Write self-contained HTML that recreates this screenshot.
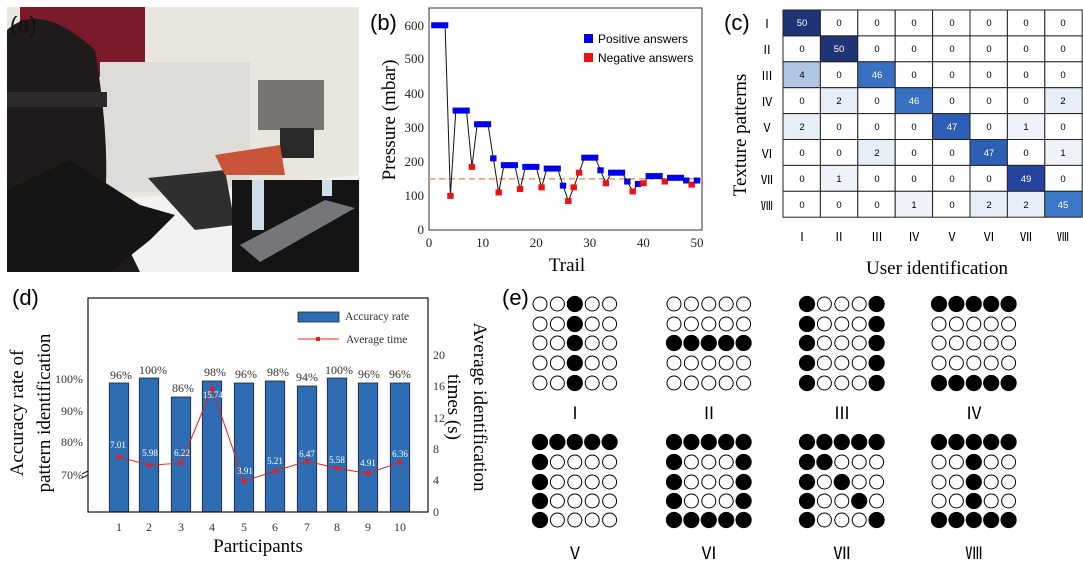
<!DOCTYPE html>
<html><head><meta charset="utf-8">
<style>
html,body{margin:0;padding:0;background:#fff;}
svg{display:block;}
.s{font-family:"Liberation Serif","Noto Serif CJK SC",serif;}
.a{font-family:"Liberation Sans","Noto Sans CJK SC",sans-serif;}
.r{font-family:"Liberation Sans","Noto Sans CJK SC",sans-serif;}
</style></head>
<body>
<svg id="sv" width="1083" height="574" viewBox="0 0 1083 574" xmlns="http://www.w3.org/2000/svg">
<!-- (a) photo approximation -->
<rect x="7" y="7" width="352" height="265" fill="#e9e6df"/>
<rect x="20" y="7" width="125" height="70" fill="#7a1a2a"/>
<rect x="100" y="62" width="150" height="130" fill="#dedcd8"/>
<polygon points="118,200 250,185 360,175 360,272 118,272" fill="#f2f2f2"/>
<polygon points="148,178 225,170 235,225 195,230" fill="#2f2f2f"/>
<rect x="258" y="80" width="66" height="50" fill="#7a7470"/>
<rect x="280" y="128" width="34" height="30" fill="#2a2a2a"/>
<polygon points="215,155 280,145 285,175 225,175" fill="#c8553a"/>
<path d="M7,30 Q40,0 95,50 Q110,140 105,200 L140,272 L7,272 Z" fill="#1f1b1a"/>
<rect x="7" y="92" width="100" height="15" fill="#2b2b2b"/>
<polygon points="70,160 140,205 175,215 150,240 110,272 7,272 7,190" fill="#151515"/>
<rect x="232" y="180" width="127" height="92" fill="#141414"/>
<rect x="252" y="180" width="12" height="50" fill="#cfdde8"/>
<rect x="322" y="180" width="10" height="16" fill="#cfdde8"/>
<polygon points="240,245 325,200 355,208 260,262" fill="#8d8f92" opacity="0.8"/>
<text x="10" y="32" class="a" font-size="22" fill="#111">(a)</text>

<!-- (b) -->
<text x="370" y="30" class="a" font-size="22">(b)</text>
<rect x="429" y="8" width="273" height="222" fill="none" stroke="#333" stroke-width="1"/>
<g class="s" font-size="13" text-anchor="end" fill="#222">
<text x="424" y="234">0</text><text x="424" y="200">100</text><text x="424" y="166">200</text>
<text x="424" y="132">300</text><text x="424" y="98">400</text><text x="424" y="63">500</text><text x="424" y="30">600</text>
</g>
<g class="s" font-size="13" text-anchor="middle" fill="#222">
<text x="429" y="247">0</text><text x="482.6" y="247">10</text><text x="536.2" y="247">20</text>
<text x="589.8" y="247">30</text><text x="643.4" y="247">40</text><text x="697" y="247">50</text>
</g>
<text x="567" y="271" class="s" font-size="19" text-anchor="middle">Trail</text>
<text transform="translate(395,120) rotate(-90)" class="s" font-size="19" text-anchor="middle">Pressure (mbar)</text>
<line x1="429" y1="178.8" x2="702" y2="178.8" stroke="#f0a060" stroke-width="1.6" stroke-dasharray="6,4"/>
<g id="bplot"></g>
<rect x="584" y="34" width="9" height="9" fill="#0000ee"/>
<text x="598" y="43" class="a" font-size="12">Positive answers</text>
<rect x="584" y="53" width="9" height="9" fill="#ee1111"/>
<text x="598" y="62" class="a" font-size="12">Negative answers</text>

<!-- (c) -->
<text x="724" y="30" class="a" font-size="22">(c)</text>
<g id="cm"></g>
<g class="a" font-size="9.5" text-anchor="middle">
<text x="802" y="26" fill="#fff">50</text><text x="839" y="26">0</text><text x="877" y="26">0</text><text x="914" y="26">0</text><text x="952" y="26">0</text><text x="989" y="26">0</text><text x="1026" y="26">0</text><text x="1063" y="26">0</text>
<text x="802" y="52">0</text><text x="839" y="52" fill="#fff">50</text><text x="877" y="52">0</text><text x="914" y="52">0</text><text x="952" y="52">0</text><text x="989" y="52">0</text><text x="1026" y="52">0</text><text x="1063" y="52">0</text>
<text x="802" y="78">4</text><text x="839" y="78">0</text><text x="877" y="78" fill="#fff">46</text><text x="914" y="78">0</text><text x="952" y="78">0</text><text x="989" y="78">0</text><text x="1026" y="78">0</text><text x="1063" y="78">0</text>
<text x="802" y="104">0</text><text x="839" y="104">2</text><text x="877" y="104">0</text><text x="914" y="104" fill="#fff">46</text><text x="952" y="104">0</text><text x="989" y="104">0</text><text x="1026" y="104">0</text><text x="1063" y="104">2</text>
<text x="802" y="130">2</text><text x="839" y="130">0</text><text x="877" y="130">0</text><text x="914" y="130">0</text><text x="952" y="130" fill="#fff">47</text><text x="989" y="130">0</text><text x="1026" y="130">1</text><text x="1063" y="130">0</text>
<text x="802" y="156">0</text><text x="839" y="156">0</text><text x="877" y="156">2</text><text x="914" y="156">0</text><text x="952" y="156">0</text><text x="989" y="156" fill="#fff">47</text><text x="1026" y="156">0</text><text x="1063" y="156">1</text>
<text x="802" y="182">0</text><text x="839" y="182">1</text><text x="877" y="182">0</text><text x="914" y="182">0</text><text x="952" y="182">0</text><text x="989" y="182">0</text><text x="1026" y="182" fill="#fff">49</text><text x="1063" y="182">0</text>
<text x="802" y="208">0</text><text x="839" y="208">0</text><text x="877" y="208">0</text><text x="914" y="208">1</text><text x="952" y="208">0</text><text x="989" y="208">2</text><text x="1026" y="208">2</text><text x="1063" y="208" fill="#fff">45</text>
</g>
<g class="r" font-size="12" text-anchor="middle">
<text x="767" y="28">Ⅰ</text><text x="767" y="54">Ⅱ</text><text x="767" y="80">Ⅲ</text><text x="767" y="106">Ⅳ</text>
<text x="767" y="132">Ⅴ</text><text x="767" y="158">Ⅵ</text><text x="767" y="184">Ⅶ</text><text x="767" y="210">Ⅷ</text>
<text x="802" y="241">Ⅰ</text><text x="839" y="241">Ⅱ</text><text x="877" y="241">Ⅲ</text><text x="914" y="241">Ⅳ</text>
<text x="952" y="241">Ⅴ</text><text x="989" y="241">Ⅵ</text><text x="1026" y="241">Ⅶ</text><text x="1063" y="241">Ⅷ</text>
</g>
<text x="937" y="274" class="s" font-size="19" text-anchor="middle">User identification</text>
<text transform="translate(746,135) rotate(-90)" class="s" font-size="19" text-anchor="middle">Texture patterns</text>

<!-- (d) -->
<text x="12" y="305" class="a" font-size="22">(d)</text>
<g id="bars"></g>
<rect x="88" y="298" width="340" height="214" fill="none" stroke="#111" stroke-width="1.2"/>
<g class="s" font-size="12" text-anchor="end" fill="#333">
<text x="83" y="383">100%</text><text x="83" y="415">90%</text><text x="83" y="446">80%</text><text x="83" y="479">70%</text>
</g>
<g class="s" font-size="12" fill="#333">
<text x="433" y="359">20</text><text x="433" y="390">16</text><text x="433" y="422">12</text><text x="433" y="453">8</text><text x="433" y="484">4</text><text x="433" y="516">0</text>
</g>
<g class="s" font-size="12" text-anchor="middle" fill="#333">
<text x="119" y="531">1</text><text x="149" y="531">2</text><text x="181" y="531">3</text><text x="212" y="531">4</text><text x="244" y="531">5</text>
<text x="275" y="531">6</text><text x="307" y="531">7</text><text x="337" y="531">8</text><text x="368" y="531">9</text><text x="400" y="531">10</text>
</g>
<g class="s" font-size="12" text-anchor="middle" fill="#333">
<text x="121" y="379">96%</text><text x="153" y="374">100%</text><text x="183" y="392">86%</text><text x="215" y="376">98%</text><text x="246" y="378">96%</text>
<text x="278" y="376">98%</text><text x="307" y="381">94%</text><text x="339" y="374">100%</text><text x="369" y="378">96%</text><text x="400" y="378">96%</text>
</g>
<g class="s" font-size="9" text-anchor="middle" fill="#fff">
<text x="118" y="448">7.01</text><text x="150" y="456">5.98</text><text x="182" y="456">6.22</text><text x="213" y="398">15.74</text><text x="245" y="474">3.91</text>
<text x="275" y="464">5.21</text><text x="307" y="457">6.47</text><text x="337" y="463">5.58</text><text x="368" y="466">4.91</text><text x="400" y="457">6.36</text>
</g>
<rect x="298" y="312" width="41" height="10" fill="#2e6db4" stroke="#222" stroke-width="0.8"/>
<text x="345" y="320" class="s" font-size="11.5" fill="#333">Accuracy rate</text>
<line x1="298" y1="339" x2="339" y2="339" stroke="#e02020" stroke-width="1"/>
<rect x="316" y="337" width="4" height="4" fill="#e02020"/>
<text x="346" y="343" class="s" font-size="11.5" fill="#333">Average time</text>
<path d="M82,474 l6,-3 M82,478 l6,-3" stroke="#222" stroke-width="1"/>
<text x="258" y="552" class="s" font-size="19" text-anchor="middle">Participants</text>
<text transform="translate(23,413) rotate(-90)" class="s" font-size="19" text-anchor="middle">Accuracy rate of</text>
<text transform="translate(50,413) rotate(-90)" class="s" font-size="19" text-anchor="middle">pattern identification</text>
<text transform="translate(474,407) rotate(90)" class="s" font-size="19" text-anchor="middle">Average identification</text>
<text transform="translate(448,407) rotate(90)" class="s" font-size="19" text-anchor="middle">times (s)</text>

<!-- (e) -->
<text x="502" y="305" class="a" font-size="22">(e)</text>
<g id="grids"></g>
<g class="r" font-size="17" text-anchor="middle">
<text x="575" y="419">Ⅰ</text><text x="709" y="419">Ⅱ</text><text x="842" y="419">Ⅲ</text><text x="974" y="419">Ⅳ</text>
<text x="575" y="559">Ⅴ</text><text x="709" y="559">Ⅵ</text><text x="842" y="559">Ⅶ</text><text x="974" y="559">Ⅷ</text>
</g>
</svg>
<script>
var NS="http://www.w3.org/2000/svg";
function el(p,t,a){var e=document.createElementNS(NS,t);for(var k in a)e.setAttribute(k,a[k]);p.appendChild(e);return e;}
var d=[[600,1],[600,1],[600,1],[100,0],[350,1],[350,1],[350,1],[185,0],[310,1],[310,1],[310,1],[210,1],[110,0],[190,1],[190,1],[190,1],[120,0],[185,1],[185,1],[185,1],[125,0],[180,1],[180,1],[180,1],[130,1],[85,0],[125,0],[168,0],[212,1],[212,1],[212,1],[175,1],[137,0],[168,1],[168,1],[168,1],[142,1],[113,0],[135,1],[137,0],[158,1],[158,1],[158,1],[142,0],[153,1],[153,1],[153,1],[145,1],[133,0],[145,1]];
var g=document.getElementById("bplot"),pts=[];
d.forEach(function(v,i){pts.push((429+(i+1)*5.36).toFixed(1)+","+(230-v[0]*0.3412).toFixed(1));});
el(g,"polyline",{points:pts.join(" "),fill:"none",stroke:"#111","stroke-width":1});
d.forEach(function(v,i){var x=429+(i+1)*5.36,y=230-v[0]*0.3412;el(g,"rect",{x:x-3.2,y:y-3,width:6.4,height:6,fill:v[1]?"#0000ee":"#ee1111"});});
var M=[[50,0,0,0,0,0,0,0],[0,50,0,0,0,0,0,0],[4,0,46,0,0,0,0,0],[0,2,0,46,0,0,0,2],[2,0,0,0,47,0,1,0],[0,0,2,0,0,47,0,1],[0,1,0,0,0,0,49,0],[0,0,0,1,0,2,2,45]];
var cmap={50:"#1f3477",49:"#22449a",47:"#2c5fb5",46:"#3870c2",45:"#3b77c6",4:"#b0c4e3",2:"#e7eef8",1:"#eef3fa",0:"#ffffff"};
var c=document.getElementById("cm");
for(var r=0;r<8;r++)for(var k=0;k<8;k++)el(c,"rect",{x:783+k*37.4,y:10+r*25.9,width:37.4,height:25.9,fill:cmap[M[r][k]],stroke:"#222","stroke-width":1});
var bx=[119,149,181,212,244,275,307,337,368,400],bt=[383,378,397,381,383,381,386,378,383,383],tm=[7.01,5.98,6.22,15.74,3.91,5.21,6.47,5.58,4.91,6.36];
var b=document.getElementById("bars");
bx.forEach(function(x,i){el(b,"rect",{x:x-9.7,y:bt[i],width:19.4,height:512-bt[i],fill:"#2e6db4",stroke:"#222","stroke-width":0.8});});
var lp=bx.map(function(x,i){return x+","+(512-tm[i]*7.85).toFixed(1);});
el(b,"polyline",{points:lp.join(" "),fill:"none",stroke:"#e02020","stroke-width":1});
bx.forEach(function(x,i){el(b,"rect",{x:x-2.2,y:512-tm[i]*7.85-2.2,width:4.4,height:4.4,fill:"#e02020"});});
var P=[
["00100","00100","00100","00100","00100"],
["00000","00000","11111","00000","00000"],
["10001","10001","10001","10001","10001"],
["11111","00000","00000","00000","11111"],
["11111","10000","10000","10000","10000"],
["11111","10001","10001","10001","11111"],
["11111","11000","10100","10010","10001"],
["11111","00100","00100","00100","11111"]];
var gx=[540,674,807,939],gy=[[304,324,343,363,383],[442,462,482,501,520]];
var G=document.getElementById("grids");
P.forEach(function(p,n){var ox=gx[n%4],ys=gy[Math.floor(n/4)];
for(var r=0;r<5;r++)for(var k=0;k<5;k++){var f=p[r][k]=="1";el(G,"circle",{cx:ox+k*17.4,cy:ys[r],r:f?7.6:7,fill:f?"#000":"#fff",stroke:"#000","stroke-width":1});}});
</script>
</body></html>
